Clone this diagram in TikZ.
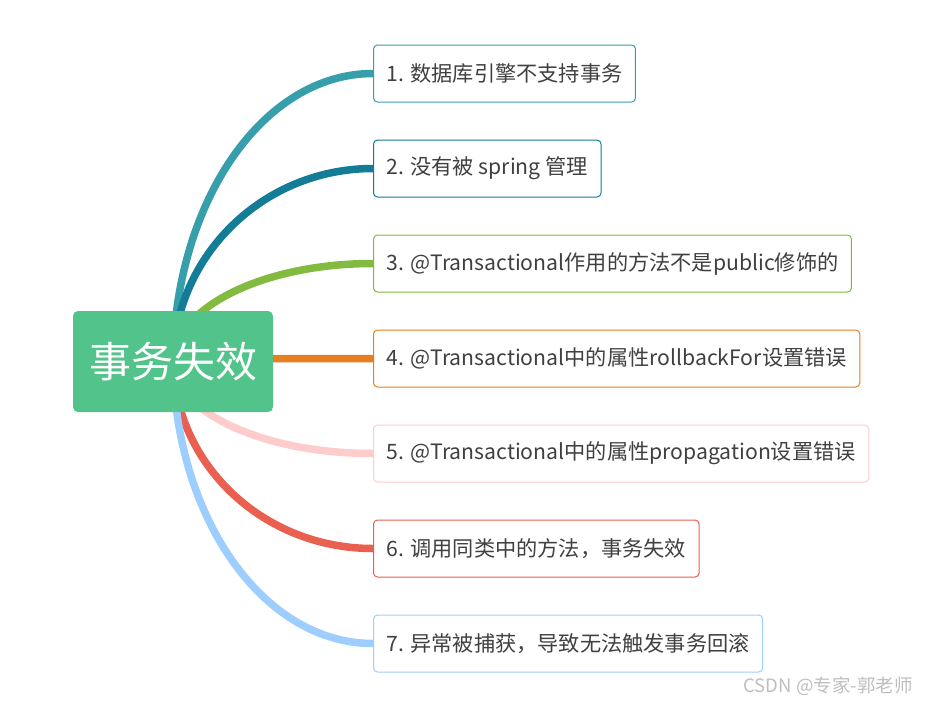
\documentclass[tikz,border=0pt]{standalone}
\usepackage{fontspec}
\setmainfont{Noto Sans CJK SC}
\usetikzlibrary{backgrounds}
\definecolor{txt}{RGB}{64,64,64}
\definecolor{rootc}{RGB}{82,195,138}
\definecolor{c1}{RGB}{55,159,171}
\definecolor{c2}{RGB}{19,124,150}
\definecolor{c3}{RGB}{130,187,64}
\definecolor{c4}{RGB}{230,126,34}
\definecolor{c5}{RGB}{255,204,204}
\definecolor{c6}{RGB}{233,95,80}
\definecolor{c7}{RGB}{158,206,255}
\definecolor{wm}{RGB}{190,190,190}
\tikzset{
  leaf/.style={draw=#1, line width=1pt, rounded corners=4pt, fill=white, anchor=west,
    minimum height=57pt, inner xsep=13pt, text=txt, font=\fontsize{21.2}{25}\selectfont},
  branch/.style={draw=#1, line width=7.5pt},
}
\begin{document}
\begin{tikzpicture}[x=1pt,y=-1pt]
\useasboundingbox (0,0) rectangle (932,705);
\node[fill=rootc, rounded corners=5pt, minimum width=200pt, minimum height=101pt,
  text=white, font=\fontsize{42}{50}\selectfont] (root) at (173,361.5) {事务失效};
\node[leaf=c1] (b1) at (373,73.5) {1. 数据库引擎不支持事务};
\node[leaf=c2] (b2) at (373,168.5) {2. 没有被 spring 管理};
\node[leaf=c3] (b3) at (373,263.5) {3. @Transactional作用的方法不是public修饰的};
\node[leaf=c4] (b4) at (373,358.5) {4. @Transactional中的属性rollbackFor设置错误};
\node[leaf=c5] (b5) at (373,453.5) {5. @Transactional中的属性propagation设置错误};
\node[leaf=c6] (b6) at (373,548.5) {6. 调用同类中的方法，事务失效};
\node[leaf=c7] (b7) at (373,643.5) {7. 异常被捕获，导致无法触发事务回滚};
\node[text=wm, font=\fontsize{18.5}{22}\selectfont] (wmk) at (828,686) {CSDN @专家-郭老师};
\begin{scope}[on background layer]
\draw[branch=c1] (root.center) .. controls +(2,-160) and +(-110,0) .. (b1.west);
\draw[branch=c2] (root.center) .. controls +(2,-106) and +(-110,0) .. (b2.west);
\draw[branch=c3] (root.center) .. controls +(2,-54) and +(-110,0) .. (b3.west);
\draw[branch=c4] (root.center) -- (b4.west -| root.east) -- (b4.west);
\draw[branch=c5] (root.center) .. controls +(2,51) and +(-110,0) .. (b5.west);
\draw[branch=c6] (root.center) .. controls +(2,103) and +(-110,0) .. (b6.west);
\draw[branch=c7] (root.center) .. controls +(2,156) and +(-110,0) .. (b7.west);
\end{scope}
\end{tikzpicture}
\end{document}
